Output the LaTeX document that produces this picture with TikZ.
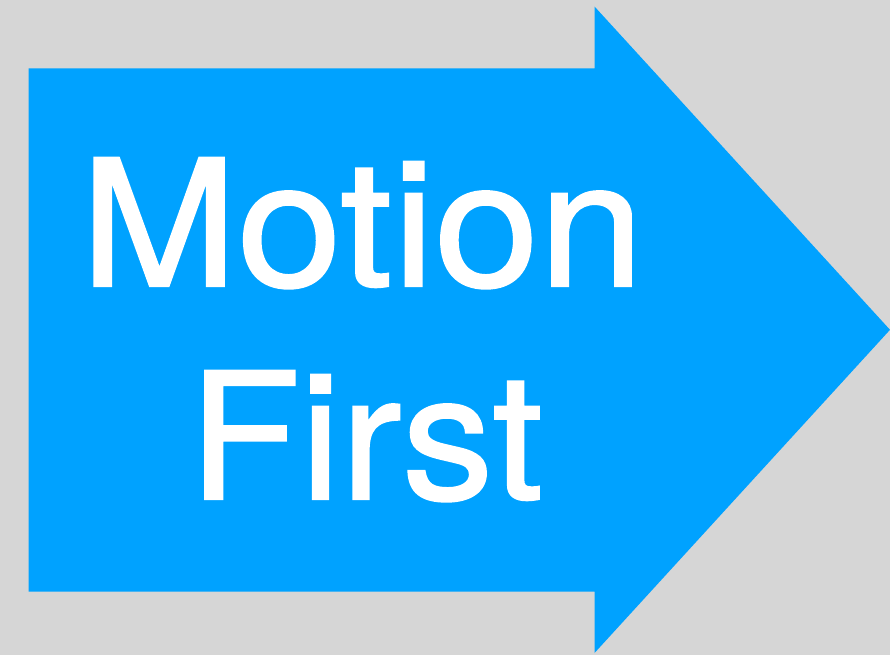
\documentclass[tikz,border=0pt]{standalone}
\usepackage{fontspec}
\newfontfamily\bigfont[FakeBold=1.2]{TeX Gyre Heros}
\definecolor{bgrey}{RGB}{214,214,214}
\definecolor{kblue}{RGB}{0,162,255}
\tikzset{
  bigword/.style={text=white, inner sep=0pt, anchor=base, font=\bigfont\fontsize{176}{176}\selectfont},
}
\begin{document}
\begin{tikzpicture}[x=1pt,y=-1pt]
\useasboundingbox (0,0) rectangle (890,655);
\fill[bgrey] (0,0) rectangle (890,655);
\fill[kblue] (28.5,68.5) -- (594.5,68.5) -- (594.5,6.5) -- (890,329.8) -- (594.5,653) -- (594.5,591.5) -- (28.5,591.5) -- cycle;
\node[bigword, xscale=1.07] (motion) at (362,286) {Motion};
\node[bigword, xscale=1.035] (first) at (366,499) {First};
\end{tikzpicture}
\end{document}
